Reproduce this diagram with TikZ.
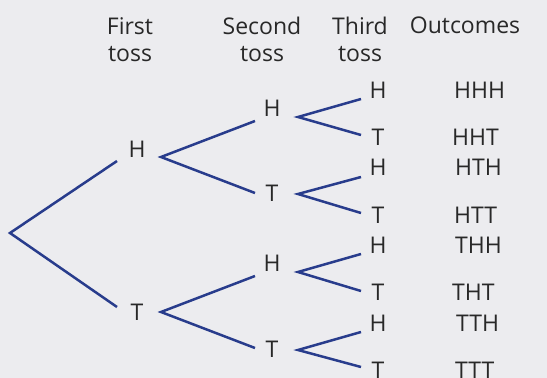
\documentclass[tikz,border=0pt]{standalone}
\usepackage{fontspec}
\setmainfont{Open Sans}
\definecolor{bgc}{RGB}{236,236,239}
\definecolor{branch}{RGB}{40,60,140}
\definecolor{txt}{RGB}{40,40,40}
\begin{document}
\begin{tikzpicture}[x=1pt,y=-1pt,
  lbl/.style={inner sep=0pt,text=txt,font=\fontsize{23}{27}\selectfont},
  head/.style={lbl,align=center,anchor=north},
  outc/.style={lbl,anchor=west},
  br/.style={draw=branch,line width=2.5pt}]
\fill[bgc] (0,0) rectangle (547,378);
\useasboundingbox (0,0) rectangle (547,378);
% headers
\node[head] (h1) at (130,17) {First\\toss};
\node[head] (h2) at (262,17) {Second\\toss};
\node[head] (h3) at (360,17) {Third\\toss};
\node[head] (h4) at (465,17) {Outcomes};
% first toss
\coordinate (r) at (10,233);
\coordinate (a1) at (117,161);
\coordinate (a2) at (117,307);
\node[lbl] (H1) at (137,149) {H};
\node[lbl] (T1) at (137,312) {T};
\draw[br] (a1) -- (r) -- (a2);
% second toss
\coordinate (b1) at (161,157);
\coordinate (b2) at (161,312);
\coordinate (b1u) at (255,121);
\coordinate (b1d) at (255,193);
\coordinate (b2u) at (255,276);
\coordinate (b2d) at (255,348);
\node[lbl] (HH) at (272,108) {H};
\node[lbl] (HT) at (272,193) {T};
\node[lbl] (TH) at (272,263) {H};
\node[lbl] (TT) at (272,349) {T};
\draw[br] (b1u) -- (b1) -- (b1d);
\draw[br] (b2u) -- (b2) -- (b2d);
% third toss
\foreach \i/\v/\u/\d/\hy/\ty in {1/117/99/135/90/137, 2/194/177/213/167/215, 3/272/254/291/245/292, 4/350/332/367/323/370}{
  \coordinate (c\i) at (298,\v);
  \coordinate (c\i u) at (361,\u);
  \coordinate (c\i d) at (361,\d);
  \draw[br] (c\i u) -- (c\i) -- (c\i d);
  \node[lbl] (c\i H) at (378,\hy) {H};
  \node[lbl] (c\i T) at (378,\ty) {T};
}
% outcomes
\node[outc] (o1) at (454,90) {HHH};
\node[outc] (o2) at (452,137) {HHT};
\node[outc] (o3) at (455,167) {HTH};
\node[outc] (o4) at (454,215) {HTT};
\node[outc] (o5) at (455,245) {THH};
\node[outc] (o6) at (452,292) {THT};
\node[outc] (o7) at (456,323) {TTH};
\node[outc] (o8) at (455,370) {TTT};
\end{tikzpicture}
\end{document}
